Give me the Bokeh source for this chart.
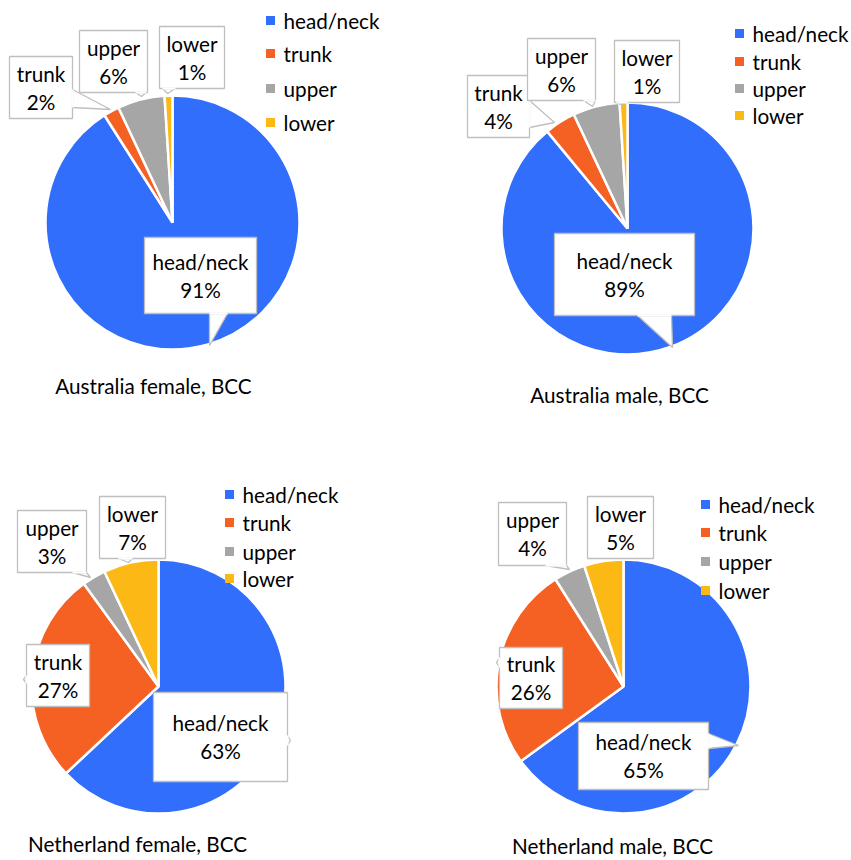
import math
from bokeh.plotting import figure
from bokeh.models import Range1d, ColumnDataSource
from bokeh.embed import file_html
from bokeh.resources import INLINE
from bokeh.core.properties import value

# ---------------- data ----------------
categories = ["head/neck", "trunk", "upper", "lower"]
colors = ["#316EFC", "#F56023", "#A6A6A6", "#FCB814"]
titles = ["Australia female, BCC", "Australia male, BCC",
          "Netherland female, BCC", "Netherland male, BCC"]
australia_female = [91, 2, 6, 1]
australia_male = [89, 4, 6, 1]
netherland_female = [63, 27, 3, 7]
netherland_male = [65, 26, 4, 5]
series = [australia_female, australia_male, netherland_female, netherland_male]

# ---------------- layout (screen pixels, y downward) ----------------
W, H = 851, 860
FONT = "Lato"
FS = "20.7px"

panels = [
    dict(c=(172, 222), r=127, leg_x=270, leg_y=[20, 53, 88, 122], title=(153, 385),
         boxes=[
             (144, 256, 237, 313, [(209, 313), (227, 313), (209, 345)]),
             (9, 72, 56, 118, [(72, 89), (72, 107), (110, 109)]),
             (79, 147, 30, 92, [(135, 92), (146, 92), (141, 96)]),
             (159, 224, 26, 88, [(162, 88), (175, 88), (167, 93)]),
         ]),
    dict(c=(627, 228), r=126, leg_x=739, leg_y=[33, 61, 88, 115], title=(619, 394),
         boxes=[
             (554, 694, 233, 315, [(637, 315), (671, 315), (672, 347)]),
             (467, 529, 75, 137, [(529, 100), (529, 127), (554, 122)]),
             (527, 595, 38, 100, [(583, 100), (595, 100), (592, 106)]),
             (614, 679, 40, 102, [(616, 102), (628, 102), (620, 104)]),
         ]),
    dict(c=(158, 686), r=127, leg_x=229, leg_y=[494, 522, 551, 578], title=(137, 843),
         boxes=[
             (153, 287, 692, 781, [(287, 735), (287, 745), (290, 740)]),
             (26, 89, 644, 706, [(26, 675), (26, 683), (23, 679)]),
             (17, 86, 510, 572, [(72, 572), (86, 572), (90, 577)]),
             (99, 165, 496, 558, [(118, 558), (132, 558), (128, 562)]),
         ]),
    dict(c=(623, 686), r=127, leg_x=705, leg_y=[504, 532, 561, 590], title=(612, 845),
         boxes=[
             (578, 708, 722, 789, [(708, 733), (708, 748), (738, 745)]),
             (499, 562, 647, 708, [(499, 657), (499, 667), (496, 662)]),
             (498, 566, 502, 565, [(545, 565), (566, 565), (569, 569)]),
             (587, 653, 496, 558, None),
         ]),
]


def Y(y):
    return H - y


p = figure(width=W, height=H, x_range=Range1d(0, W), y_range=Range1d(0, H),
           x_axis_type=None, y_axis_type=None, toolbar_location=None,
           output_backend="svg", min_border=0)
p.grid.visible = False
p.outline_line_color = None
p.background_fill_color = "white"
p.border_fill_color = "white"

for panel, vals, title in zip(panels, series, titles):
    cx, cy = panel["c"]
    total = float(sum(vals))
    starts, ends = [], []
    cum = 0.0
    for v in vals:
        a0 = math.pi / 2 - 2 * math.pi * cum / total
        cum += v
        a1 = math.pi / 2 - 2 * math.pi * cum / total
        starts.append(a1)
        ends.append(a0)
    src = ColumnDataSource(dict(x=[cx] * len(vals), y=[Y(cy)] * len(vals),
                                start=starts, end=ends, color=colors))
    p.wedge(x="x", y="y", radius=panel["r"], start_angle="start", end_angle="end",
            direction="anticlock", fill_color="color", line_color="white",
            line_width=2.5, source=src)

    # callouts
    for (x0, x1, y0, y1, tail), cat, v in zip(panel["boxes"], categories, vals):
        xs = [x0, x1, x1, x0]
        ys = [Y(y0), Y(y0), Y(y1), Y(y1)]
        if tail is not None:
            p.patch([t[0] for t in tail], [Y(t[1]) for t in tail],
                    fill_color="white", line_color="#BFBFBF", line_width=1.3)
        p.patch(xs, ys, fill_color="white", line_color="#BFBFBF", line_width=1.3)
        if tail is not None:
            (bx0, by0), (bx1, by1) = tail[0], tail[1]
            p.line([bx0, bx1], [Y(by0), Y(by1)], line_color="white", line_width=2.2)
        tx = (x0 + x1) / 2
        ty = (y0 + y1) / 2
        p.text(x=[tx, tx], y=[Y(ty - 14), Y(ty + 14)], text=[cat, f"{v}%"],
               text_font=value(FONT), text_font_size=FS, text_color="black",
               text_align="center", text_baseline="middle")

    # legend
    lx = panel["leg_x"]
    p.rect(x=[lx] * 4, y=[Y(v) for v in panel["leg_y"]], width=9, height=9,
           fill_color=colors, line_color=None)
    p.text(x=[lx + 13] * 4, y=[Y(v) for v in panel["leg_y"]], text=categories,
           text_font=value(FONT), text_font_size=FS, text_color="black",
           text_align="left", text_baseline="middle")

    # title
    tx, ty = panel["title"]
    p.text(x=[tx], y=[Y(ty)], text=[title], text_font=value(FONT),
           text_font_size=FS, text_color="black", text_align="center",
           text_baseline="middle")

open("out.html", "w").write(file_html(p, INLINE))
